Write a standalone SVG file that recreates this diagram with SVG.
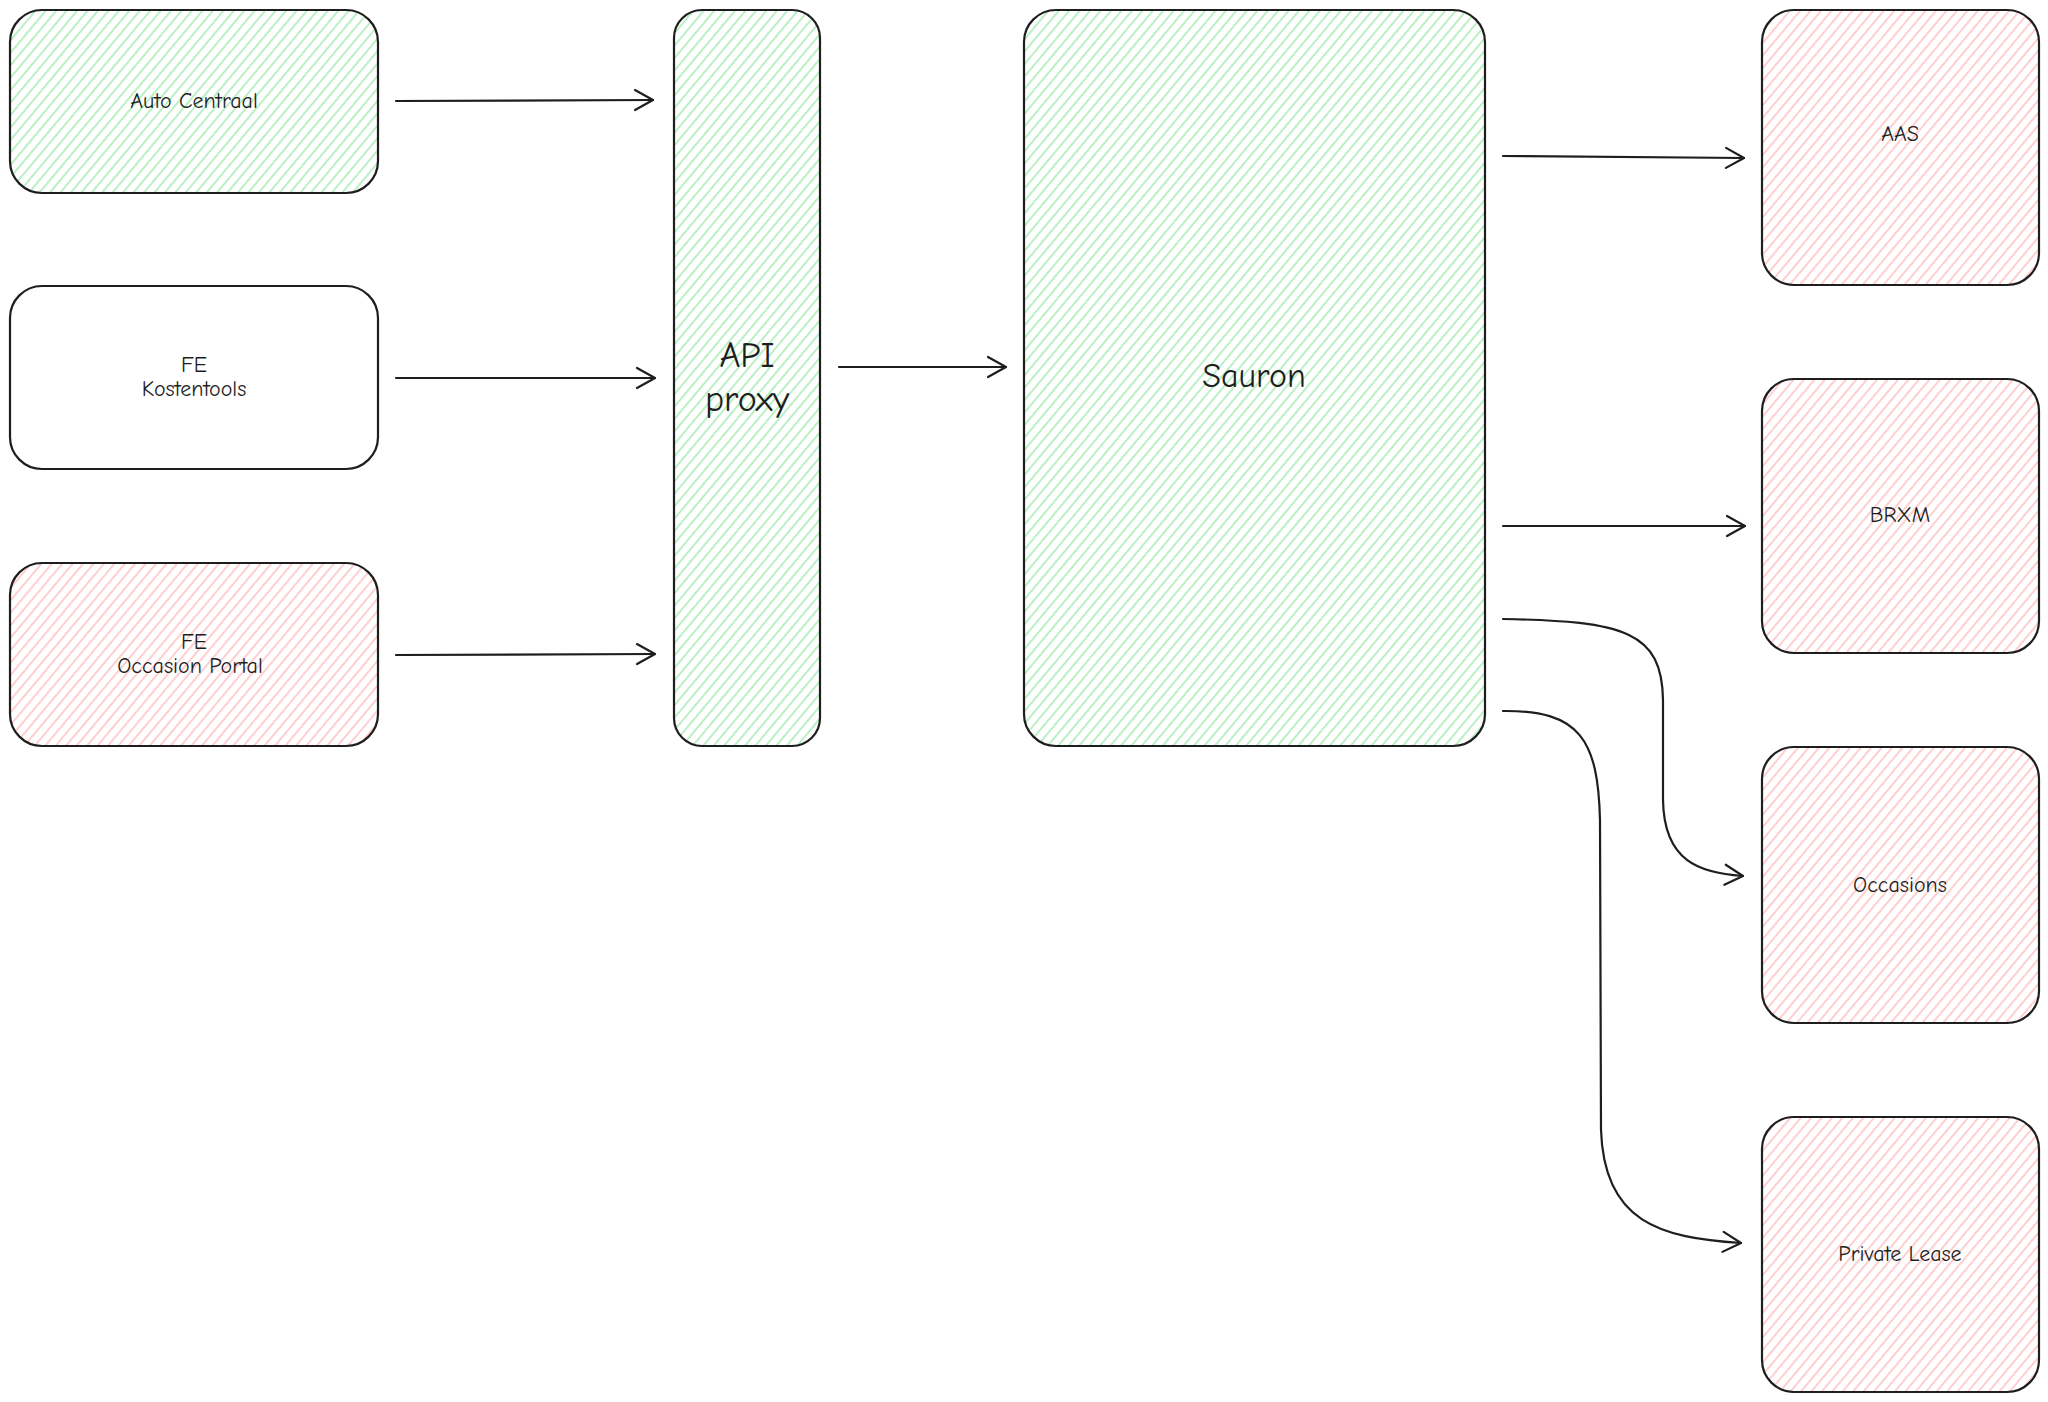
<svg xmlns="http://www.w3.org/2000/svg" width="2048" height="1402" viewBox="0 0 2048 1402">
<defs>
<style>
.box{stroke:#1e1e1e;stroke-width:2.2}
.g{fill:url(#hg)}
.p{fill:url(#hp)}
.w{fill:#ffffff}
.t{font-family:"Comic Neue","DejaVu Sans","Liberation Sans",sans-serif;fill:#1e1e1e;text-anchor:middle;dominant-baseline:middle}
.s{font-size:22px}
.l{font-size:36px}
.c{fill:none;stroke:#1e1e1e;stroke-width:2.2;stroke-linecap:round;marker-end:url(#ah)}
</style>
<pattern id="hg" patternUnits="userSpaceOnUse" width="8" height="8" patternTransform="rotate(40)">
<rect width="8" height="8" fill="#ffffff"/>
<line x1="2" y1="0" x2="2" y2="8" stroke="#a5ebb0" stroke-width="1.5"/>
</pattern>
<pattern id="hp" patternUnits="userSpaceOnUse" width="8" height="8" patternTransform="rotate(40)">
<rect width="8" height="8" fill="#ffffff"/>
<line x1="2" y1="0" x2="2" y2="8" stroke="#ffbfbf" stroke-width="1.5"/>
</pattern>
<marker id="ah" markerUnits="userSpaceOnUse" markerWidth="24" markerHeight="24" refX="20" refY="11" orient="auto" viewBox="0 0 24 22">
<path d="M2,1 L20,11 L2,21" fill="none" stroke="#1e1e1e" stroke-width="2.2" stroke-linecap="round" stroke-linejoin="round"/>
</marker>
</defs>
<rect width="2048" height="1402" fill="#ffffff"/>

<g id="auto-centraal">
<rect class="box g" x="10" y="10" width="368" height="183" rx="32"/>
<text class="t s" x="194" y="103">Auto Centraal</text>
</g>
<g id="fe-kostentools">
<rect class="box w" x="10" y="286" width="368" height="183" rx="32"/>
<text class="t s" x="194" y="367">FE</text>
<text class="t s" x="194" y="391">Kostentools</text>
</g>
<g id="fe-occasion-portal">
<rect class="box p" x="10" y="563" width="368" height="183" rx="32"/>
<text class="t s" x="194" y="644">FE</text>
<text class="t s" x="190" y="668">Occasion Portal</text>
</g>
<g id="api-proxy">
<rect class="box g" x="674" y="10" width="146" height="736" rx="28"/>
<text class="t l" x="747" y="358">API</text>
<text class="t l" x="747" y="402">proxy</text>
</g>
<g id="sauron">
<rect class="box g" x="1024" y="10" width="461" height="736" rx="32"/>
<text class="t" style="font-size:34px" x="1254" y="379">Sauron</text>
</g>
<g id="aas">
<rect class="box p" x="1762" y="10" width="277" height="275" rx="32"/>
<text class="t s" x="1900" y="136">AAS</text>
</g>
<g id="brxm">
<rect class="box p" x="1762" y="379" width="277" height="274" rx="32"/>
<text class="t s" x="1900" y="517">BRXM</text>
</g>
<g id="occasions">
<rect class="box p" x="1762" y="747" width="277" height="276" rx="32"/>
<text class="t s" x="1900" y="887">Occasions</text>
</g>
<g id="private-lease">
<rect class="box p" x="1762" y="1117" width="277" height="275" rx="32"/>
<text class="t s" x="1900" y="1256">Private Lease</text>
</g>

<g id="connectors">
<path class="c" d="M396,101 L653,100"/>
<path class="c" d="M396,378 L655,378"/>
<path class="c" d="M396,655 L655,654"/>
<path class="c" d="M839,367 L1006,367"/>
<path class="c" d="M1503,156 L1744,158"/>
<path class="c" d="M1503,526 L1745,526"/>
<path class="c" d="M1503,619 C1625,621 1662,632 1663,700 L1663,800 C1664,862 1700,873 1743,876"/>
<path class="c" d="M1503,711 C1580,710 1598,740 1600,820 L1601,1130 C1604,1222 1660,1238 1741,1243"/>
</g>
</svg>
